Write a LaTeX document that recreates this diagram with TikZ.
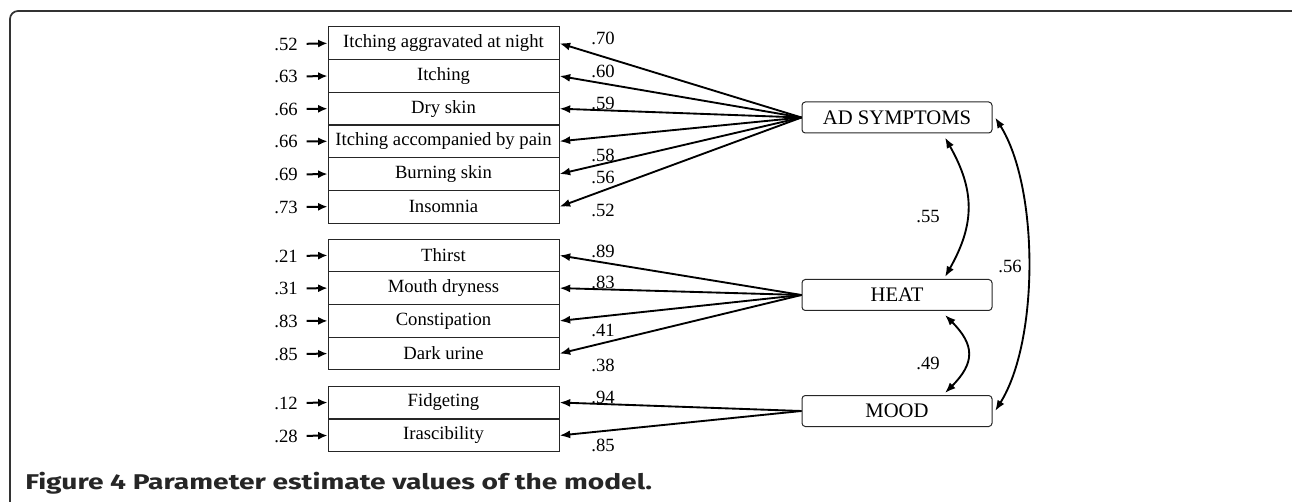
\documentclass[tikz,border=0pt]{standalone}
\usepackage{fontspec}
\setmainfont{Liberation Serif}
\setsansfont{Fira Sans}
\usepackage{tikz}
\usetikzlibrary{arrows,arrows.meta}

\begin{document}
\begin{tikzpicture}[x=0.75pt,y=-0.75pt,
  item/.style={draw=black!85,line width=0.75pt,minimum width=173.25pt,minimum height=24.5pt,inner sep=0pt,font=\fontsize{14}{16}\selectfont},
  factor/.style={draw=black!85,line width=0.75pt,rounded corners=2.5pt,minimum width=142.5pt,minimum height=23.25pt,inner sep=0pt,font=\fontsize{15.5}{18}\selectfont},
  val/.style={inner sep=0pt,font=\fontsize{14}{16}\selectfont},
  err/.style={line width=1.5pt,-{Latex[length=7pt,width=6pt]},shorten <=6.5pt},
  load/.style={line width=1.4pt,-{Latex[length=8pt,width=6pt]}},
  cor/.style={line width=1.4pt,{Latex[length=8pt,width=6pt]}-{Latex[length=8pt,width=6pt]}},
  figcap/.style={anchor=base west,inner sep=0pt,text=black!85,xscale=1.32,transform shape,font=\sffamily\bfseries\fontsize{16}{19}\selectfont}]
\useasboundingbox (0,0) rectangle (1292,502);
\draw[line width=1.3pt,black!80,rounded corners=6pt] (10,502) -- (10,11) -- (1300,11) -- (1300,502);

% indicators
\node[item] (i1) at (443.5,43.3) {Itching aggravated at night};
\node[item] (i2) at (443.5,76) {Itching};
\node[item] (i3) at (443.5,108.7) {Dry skin};
\node[item] (i4) at (443.5,141.3) {Itching accompanied by pain};
\node[item] (i5) at (443.5,174) {Burning skin};
\node[item] (i6) at (443.5,206.7) {Insomnia};
\node[item] (h1) at (443.5,255.4) {Thirst};
\node[item] (h2) at (443.5,288.1) {Mouth dryness};
\node[item] (h3) at (443.5,320.9) {Constipation};
\node[item] (h4) at (443.5,353.6) {Dark urine};
\node[item] (m1) at (443.5,402.5) {Fidgeting};
\node[item] (m2) at (443.5,435.5) {Irascibility};

% error terms
\node[val] (ei1) at (286,44) {.52}; \draw[err] (ei1.east) -- (i1.west);
\node[val] (ei2) at (286,76.5) {.63}; \draw[err] (ei2.east) -- (i2.west);
\node[val] (ei3) at (286,109) {.66}; \draw[err] (ei3.east) -- (i3.west);
\node[val] (ei4) at (286,141.5) {.66}; \draw[err] (ei4.east) -- (i4.west);
\node[val] (ei5) at (286,174.5) {.69}; \draw[err] (ei5.east) -- (i5.west);
\node[val] (ei6) at (286,207) {.73}; \draw[err] (ei6.east) -- (i6.west);
\node[val] (eh1) at (286,256) {.21}; \draw[err] (eh1.east) -- (h1.west);
\node[val] (eh2) at (286,288.5) {.31}; \draw[err] (eh2.east) -- (h2.west);
\node[val] (eh3) at (286,321) {.83}; \draw[err] (eh3.east) -- (h3.west);
\node[val] (eh4) at (286,354) {.85}; \draw[err] (eh4.east) -- (h4.west);
\node[val] (em1) at (286,403) {.12}; \draw[err] (em1.east) -- (m1.west);
\node[val] (em2) at (286,436) {.28}; \draw[err] (em2.east) -- (m2.west);

% factors
\node[factor] (ad) at (897,117.5) {AD SYMPTOMS};
\node[factor] (heat) at (897,295) {HEAT};
\node[factor] (mood) at (897,411) {MOOD};

% loadings
\draw[load] (ad.west) -- (i1.east);
\draw[load] (ad.west) -- (i2.east);
\draw[load] (ad.west) -- (i3.east);
\draw[load] (ad.west) -- (i4.east);
\draw[load] (ad.west) -- (i5.east);
\draw[load] (ad.west) -- (i6.east);
\draw[load] (heat.west) -- (h1.east);
\draw[load] (heat.west) -- (h2.east);
\draw[load] (heat.west) -- (h3.east);
\draw[load] (heat.west) -- (h4.east);
\draw[load] (mood.west) -- (m1.east);
\draw[load] (mood.west) -- (m2.east);
\node[val] (li1) at (603,38) {.70};
\node[val] (li2) at (603,71) {.60};
\node[val] (li3) at (603,103) {.59};
\node[val] (li4) at (603,155) {.58};
\node[val] (li5) at (603,177) {.56};
\node[val] (li6) at (603,210) {.52};
\node[val] (lh1) at (603,251) {.89};
\node[val] (lh2) at (603,282) {.83};
\node[val] (lh3) at (603,330) {.41};
\node[val] (lh4) at (603,365) {.38};
\node[val] (lm1) at (603,397) {.94};
\node[val] (lm2) at (603,445) {.85};

% correlations
\draw[cor] ([xshift=36pt,yshift=-3pt]ad.south) .. controls +(30,53) and +(30,-53) .. ([xshift=36pt,yshift=1.5pt]heat.north);
\draw[cor] ([xshift=36pt,yshift=-3pt]heat.south) .. controls +(30,30) and +(30,-30) .. ([xshift=36pt,yshift=1.5pt]mood.north);
\draw[cor] ([xshift=2pt]ad.east) .. controls +(44,70) and +(44,-70) .. ([xshift=2pt]mood.east);
\node[val] (c1) at (928,217) {.55};
\node[val] (c2) at (928,363) {.49};
\node[val] (c3) at (1010,266) {.56};

\node[figcap] (cap) at (25,489) {Figure 4 Parameter estimate values of the model.};
\end{tikzpicture}
\end{document}
